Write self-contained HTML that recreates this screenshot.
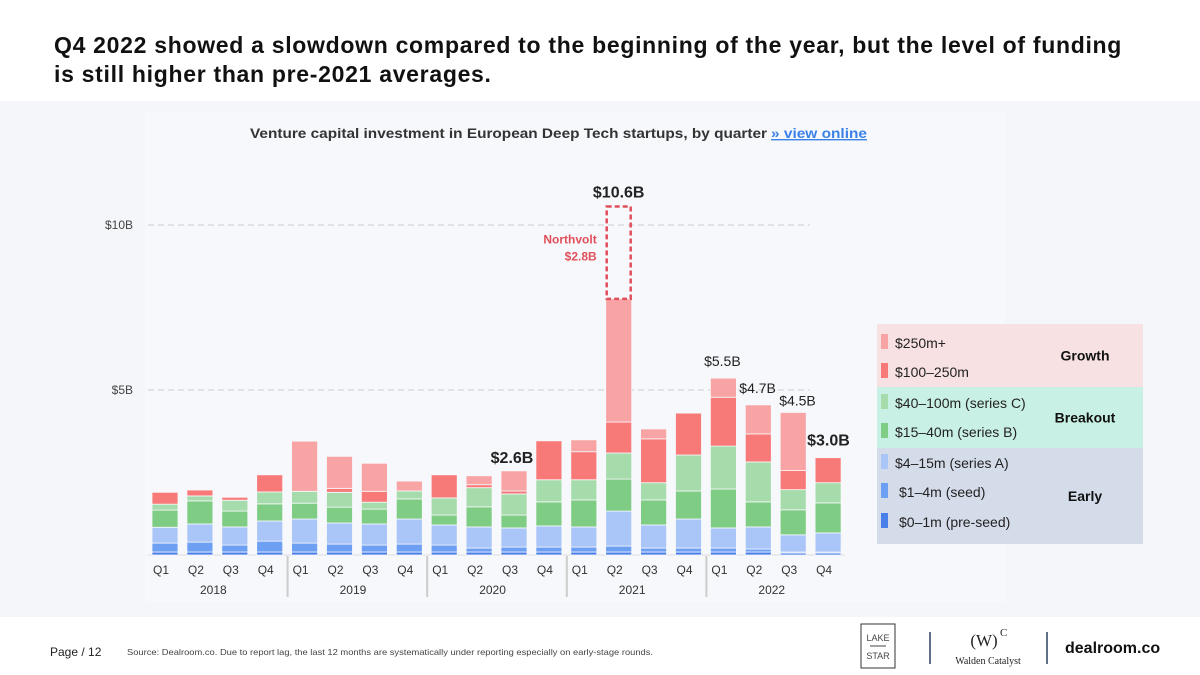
<!DOCTYPE html>
<html><head><meta charset="utf-8">
<style>
body{margin:0;width:1200px;height:675px;overflow:hidden;background:#fff;font-family:"Liberation Sans","DejaVu Sans",sans-serif;position:relative}
.title{position:absolute;left:54px;top:31px;font-size:23px;font-weight:bold;color:#111;line-height:29px;width:1085px;letter-spacing:0.7px}
.panel{position:absolute;left:0;top:101px;width:1200px;height:516px;background:#f4f6fa}
svg{position:absolute;left:0;top:0}
</style></head><body>
<div class="title">Q4 2022 showed a slowdown compared to the beginning of the year, but the level of funding is still higher than pre-2021 averages.</div>
<div class="panel"></div>
<svg id="chart" width="1200" height="675"></svg>
<script>
const quarters=["Q1","Q2","Q3","Q4","Q1","Q2","Q3","Q4","Q1","Q2","Q3","Q4","Q1","Q2","Q3","Q4","Q1","Q2","Q3","Q4"];
const years=["2018","2019","2020","2021","2022"];
const preseed=[0.09,0.09,0.09,0.09,0.09,0.09,0.09,0.09,0.09,0.09,0.09,0.09,0.09,0.09,0.09,0.09,0.09,0.09,0.06,0.06];
const seed=[0.27,0.30,0.21,0.33,0.27,0.24,0.21,0.24,0.21,0.12,0.15,0.15,0.15,0.18,0.12,0.12,0.12,0.09,0.03,0.03];
const seriesA=[0.48,0.55,0.55,0.61,0.73,0.64,0.64,0.76,0.61,0.64,0.58,0.64,0.61,1.06,0.70,0.88,0.61,0.67,0.52,0.58];
const seriesB=[0.52,0.70,0.48,0.52,0.48,0.48,0.45,0.61,0.30,0.61,0.39,0.73,0.82,0.97,0.76,0.85,1.18,0.76,0.76,0.91];
const seriesC=[0.18,0.15,0.33,0.36,0.36,0.45,0.21,0.24,0.52,0.58,0.64,0.67,0.61,0.79,0.52,1.09,1.30,1.21,0.61,0.61];
const mid=[0.36,0.18,0.09,0.52,0,0.12,0.33,0,0.70,0.09,0.09,1.18,0.85,0.94,1.33,1.27,1.48,0.85,0.58,0.76];
const late=[0,0,0,0,1.52,0.97,0.85,0.30,0,0.27,0.61,0,0.36,3.73,0.30,0,0.58,0.88,1.76,0];
const northvolt=[0,0,0,0,0,0,0,0,0,0,0,0,0,2.8,0,0,0,0,0,0];
const totalLabels=[["$2.6B",10,true],["$10.6B",13,true],["$5.5B",16,false],["$4.7B",17,false],["$4.5B",18,false],["$3.0B",19,true]];
const yTicks=[5,10];
const colors=["#4a7fea","#6d9ff3","#aac6f8","#7fcd85","#a6dcab","#f87a78","#f9a4a4"];
const series=[preseed,seed,seriesA,seriesB,seriesC,mid,late];
const svg=document.getElementById('chart');
const NS="http://www.w3.org/2000/svg";
const y0=555,pxPerB=33;
const yS=v=>y0-v*pxPerB;
const xS=i=>165+i*34.9;
const bw=26;
function mk(t,a,txt){const e=document.createElementNS(NS,t);for(const k in a)e.setAttribute(k,a[k]);if(txt!==undefined)e.textContent=txt;svg.appendChild(e);return e;}
let e;
e=mk('rect',{x:145,y:112,width:860,height:490,fill:'#f7f8fb'});


e=mk('text',{x:250,y:138,'font-size':14,'font-weight':'bold',fill:'#333',textLength:517,lengthAdjust:'spacingAndGlyphs'},'Venture capital investment in European Deep Tech startups, by quarter');


e=mk('text',{x:771,y:138,'font-size':14,'font-weight':'bold',fill:'#3b82e8','text-decoration':'underline',textLength:96,lengthAdjust:'spacingAndGlyphs'},'» view online');


yTicks.forEach(t=>{
 e=mk('line',{x1:148,x2:810,y1:yS(t),y2:yS(t),stroke:'#ccc','stroke-dasharray':'6,4'});
 
 
 e=mk('text',{x:133,y:yS(t)+4,'font-size':12,fill:'#444','text-anchor':'end'},'$'+t+'B');
 
 
});
e=mk('line',{x1:148,x2:845,y1:y0,y2:y0,stroke:'#ddd'});


quarters.forEach((q,i)=>{
 let acc=0;
 series.forEach((s,k)=>{
  const v=s[i]; if(v<=0) return;
  const r=mk('rect',{x:xS(i)-bw/2,y:yS(acc+v),width:bw,height:v*pxPerB,fill:colors[k],stroke:'#f7f8fb','stroke-width':0.8});
  
  
  acc+=v;
 });
 if(northvolt[i]>0){
  const r=mk('rect',{x:xS(i)-bw/2+1,y:yS(acc+northvolt[i]),width:bw-2,height:northvolt[i]*pxPerB,fill:'none',stroke:'#e0505a','stroke-width':2.5,'stroke-dasharray':'5,3'});
  
  
  const t1=mk('text',{x:xS(i)-22,y:yS(acc+northvolt[i]*0.6),'font-size':12,'font-weight':'bold',fill:'#e0505a','text-anchor':'end'},'Northvolt');
  
  
  const t2=mk('text',{x:xS(i)-22,y:yS(acc+northvolt[i]*0.6)+17,'font-size':12,'font-weight':'bold',fill:'#e0505a','text-anchor':'end'},'$'+northvolt[i].toFixed(1)+'B');
  
  
 }
 const t=mk('text',{x:xS(i)-4,y:574,'font-size':12,fill:'#333','text-anchor':'middle'},q);
 
 
});
years.forEach((yr,j)=>{
 const t=mk('text',{x:(xS(j*4)+xS(j*4+3))/2-4,y:594,'font-size':12,fill:'#333','text-anchor':'middle'},yr);
 
 
 if(j>0){const l=mk('line',{x1:xS(j*4)-17,x2:xS(j*4)-17,y1:556,y2:597,stroke:'#ccc','stroke-width':2});
 
 }
});
totalLabels.forEach(([lab,i,bold])=>{
 let tot=0;series.forEach(s=>tot+=s[i]);tot+=northvolt[i];
 let x=xS(i), y=yS(tot)-9, anchor='middle';
 if(i===10){x=xS(i)-2;y=yS(tot)-8;}
 if(i===16){x=xS(i)-1;y=yS(tot)-12;}
 if(i===17){x=xS(i)-19;anchor='start';y=yS(tot)-12;}
 if(i===18){x=xS(i)-14;anchor='start';y=yS(tot)-7;}
 if(i===19){x=xS(i)-21;anchor='start';y=yS(tot)-12;}
 const t=mk('text',{x:x,y:y,'font-size':bold?16:14,'font-weight':bold?'bold':'normal',fill:'#222','text-anchor':anchor},lab);
 
 
});
const legGroups=[["Growth",324,63,"#f7e1e2"],["Breakout",387,61,"#c9f0e4"],["Early",448,96,"#d4dcea"]];
legGroups.forEach(([n,y,h,c])=>{
 let r=mk('rect',{x:877,y:y,width:266,height:h,fill:c});
 
 
 r=mk('text',{x:1085,y:y+h/2+5,'font-size':14,'font-weight':'bold',fill:'#111','text-anchor':'middle'},n);
 
 
});
const legLabels=["$250m+","$100–250m","$40–100m (series C)","$15–40m (series B)","$4–15m (series A)","$1–4m (seed)","$0–1m (pre-seed)"];
const legY=[343,372,403,432,463,492,522];
const legX=[895,895,895,895,895,899,899];
legLabels.forEach((l,k)=>{
 const c=colors[6-k];
 let r=mk('rect',{x:881,y:legY[k]-9,width:7,height:15,fill:c});
 
 
 r=mk('text',{x:legX[k],y:legY[k]+5,'font-size':14,fill:'#222'},l);
 
 
});
function ft(x,y,s,txt,extra,name){const t=mk('text',Object.assign({x:x,y:y,'font-size':s,fill:'#222'},extra||{}),txt);return t;}
ft(50,656,12,'Page / 12',{},'page-number');
ft(127,655,8.5,'Source: Dealroom.co.  Due to report lag, the last 12 months are systematically under reporting especially on early-stage rounds.',{fill:'#444',textLength:526,lengthAdjust:'spacingAndGlyphs'},'source-note');
e=mk('rect',{x:861,y:624,width:34,height:44,fill:'none',stroke:'#333'});


ft(878,641,9,'LAKE',{'text-anchor':'middle',fill:'#444'},'lake-text');
ft(878,659,9,'STAR',{'text-anchor':'middle',fill:'#444'},'star-text');
e=mk('line',{x1:870,x2:886,y1:646,y2:646,stroke:'#444'});


e=mk('line',{x1:930,x2:930,y1:632,y2:664,stroke:'#2a4060','stroke-width':1.5});


ft(984,646,17,'(W)',{'text-anchor':'middle','font-family':'Liberation Serif'},'walden-mark');
ft(1000,636,11,'C',{'font-family':'Liberation Serif'},'walden-c');
ft(988,664,10,'Walden Catalyst',{'text-anchor':'middle','font-family':'Liberation Serif'},'walden-name');
e=mk('line',{x1:1047,x2:1047,y1:632,y2:664,stroke:'#2a4060','stroke-width':1.5});


ft(1065,653,16,'dealroom.co',{'font-weight':'bold',fill:'#111'},'dealroom-logo');
</script>
</body></html>
